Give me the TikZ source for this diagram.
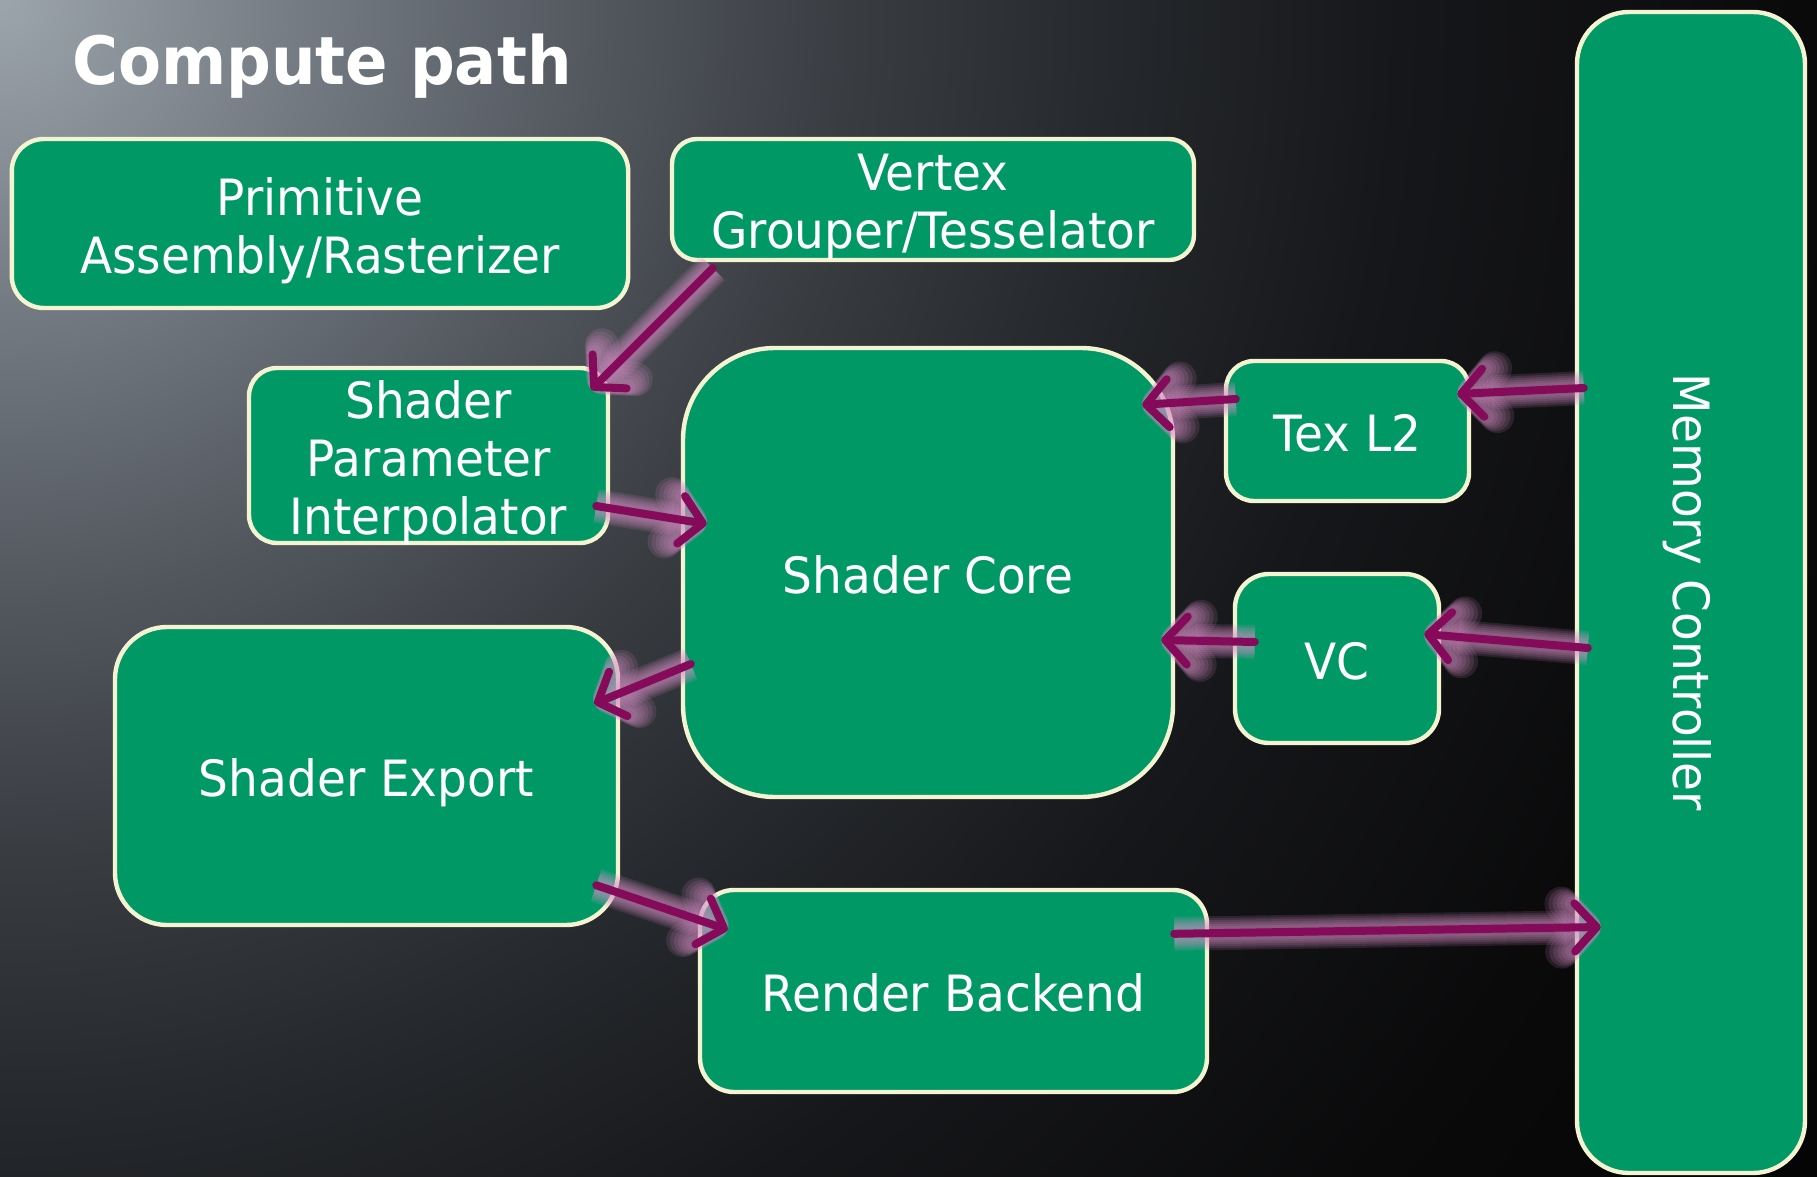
\documentclass[tikz,border=0pt]{standalone}
\usepackage{fontspec}
\setmainfont{DejaVu Sans}[FakeStretch=0.94]
\usetikzlibrary{arrows.meta}

\definecolor{boxgreen}{HTML}{009966}
\definecolor{boxrim}{HTML}{F4F4D2}
\definecolor{wire}{HTML}{850A5A}
\definecolor{halo}{HTML}{D890C8}
\definecolor{bg0}{HTML}{9CA4AC}
\definecolor{bg1}{HTML}{747B83}
\definecolor{bg2}{HTML}{52575E}
\definecolor{bg3}{HTML}{393C41}
\definecolor{bg4}{HTML}{26292D}
\definecolor{bg5}{HTML}{16171A}
\definecolor{bg6}{HTML}{0A0A0B}
\definecolor{bg7}{HTML}{040404}

% light corner at the top left fading to black
% (the path's bounding box spans the inner 50bp of the shading)
\pgfdeclareradialshading{backdrop}{\pgfpoint{0bp}{0bp}}{%
  color(0bp)=(bg0); color(3.41bp)=(bg1); color(6.82bp)=(bg2);
  color(9.66bp)=(bg3); color(12.5bp)=(bg4); color(15.9bp)=(bg5);
  color(20.45bp)=(bg6); color(25bp)=(bg7); color(50bp)=(bg7)}

\tikzset{
  boxbase/.style={draw=boxrim, line width=2.2pt, fill=boxgreen, text=white,
    align=center, inner sep=0pt, font=\fontsize{25}{29}\selectfont},
  % fixed text box so that lines sit like a slide's text frame
  box/.style={boxbase, text height=27pt, text depth=6.5pt},
  twolines/.style={text height=54.5pt, text depth=5pt},
  threelines/.style={text height=82.5pt, text depth=4pt},
  flow/.style={draw=wire, line width=4pt, line cap=round,
    -{Straight Barb[length=11pt,width=24pt,round]},
    preaction={draw=halo, line width=17pt, opacity=0.14},
    preaction={draw=halo, line width=15pt, opacity=0.14},
    preaction={draw=halo, line width=13pt, opacity=0.15},
    preaction={draw=halo, line width=11pt, opacity=0.15},
    preaction={draw=halo, line width=9pt, opacity=0.15},
    preaction={draw=halo, line width=7pt, opacity=0.15}},
  heading/.style={text=white, inner sep=0pt, anchor=base west,
    font=\fontsize{33.3}{38}\selectfont\bfseries}
}

\begin{document}
\begin{tikzpicture}[x=0.5pt, y=-0.5pt]
\useasboundingbox (0,0) rectangle (1817,1177);
\begin{scope}
  \clip (0,0) rectangle (1817,1177);
  \shade[shading=backdrop] (0,0) circle[radius=2200];
\end{scope}

\node[heading] (title) at (72,85) {Compute path};

\node[box, twolines, minimum width=308.2pt, minimum height=84.5pt, rounded corners=16pt]
  (prim) at (320,223.5) {Primitive\\Assembly/Rasterizer};
\node[box, twolines, minimum width=261pt, minimum height=60.5pt, rounded corners=12.5pt]
  (vgt) at (933,199.5) {Vertex\\Grouper/Tesselator};
\node[box, threelines, minimum width=179.5pt, minimum height=87.5pt, rounded corners=14pt]
  (spi) at (428.5,455.5) {Shader\\Parameter\\Interpolator};
\node[box, minimum width=245pt, minimum height=224.5pt, rounded corners=46pt]
  (core) at (928,572.5) {Shader Core};
\node[box, minimum width=121.5pt, minimum height=70pt, rounded corners=14pt]
  (tex) at (1347.5,431) {Tex L2};
\node[box, minimum width=102pt, minimum height=84.5pt, rounded corners=17pt]
  (vc) at (1337,658.5) {VC};
\node[box, minimum width=251.5pt, minimum height=149pt, rounded corners=26pt]
  (exp) at (366.5,776) {Shader Export};
\node[box, minimum width=253.5pt, minimum height=101pt, rounded corners=17pt]
  (rb) at (953.5,991) {Render Backend};
\node[boxbase, minimum width=114pt, minimum height=580.5pt, rounded corners=26pt]
  (mem) at (1691,592.5)
  {\rotatebox{-90}{\rule{0pt}{24pt}Memory Controller\rule[-6.4pt]{0pt}{6.4pt}}};

% data flow
\draw[flow] ([shift={(43,6)}]vgt.south west) -- ([shift={(-19,24)}]spi.north east);
\draw[flow] ([shift={(-14,50.5)}]spi.east) -- ([shift={(26,-48.5)}]core.west);
\draw[flow] ([shift={(12,-32)}]tex.west) -- ([shift={(-33,59)}]core.north east);
\draw[flow] ([shift={(9,-204.5)}]mem.west) -- ([shift={(-14,-37)}]tex.east);
\draw[flow] ([shift={(22,-16.5)}]vc.west) -- ([shift={(-14,67.5)}]core.east);
\draw[flow] ([shift={(13,55.5)}]mem.west) -- ([shift={(-17,-24.5)}]vc.east);
\draw[flow] ([shift={(10,91.5)}]core.west) -- ([shift={(-26,79)}]exp.north east);
\draw[flow] ([shift={(-24,-42)}]exp.south east) -- ([shift={(30,42)}]rb.north west);
\draw[flow] ([shift={(-35,46)}]rb.north east) -- ([shift={(26,334.5)}]mem.west);
\end{tikzpicture}
\end{document}
